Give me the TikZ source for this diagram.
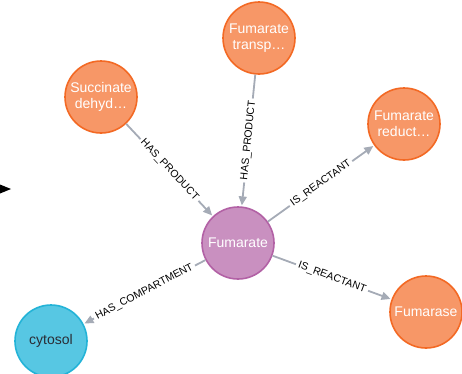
\documentclass[tikz,border=0pt]{standalone}
\usepackage{fontspec}
\setmainfont{Liberation Sans}
\usepackage{xcolor}
\usetikzlibrary{arrows.meta}

\definecolor{orangefill}{HTML}{F79767}
\definecolor{orangeline}{HTML}{F36924}
\definecolor{purplefill}{HTML}{C990C0}
\definecolor{purpleline}{HTML}{B261A5}
\definecolor{cyanfill}{HTML}{57C7E3}
\definecolor{cyanline}{HTML}{23B3D7}
\definecolor{edgegray}{HTML}{A5ABB6}
\definecolor{darktext}{HTML}{2A2C34}

\begin{document}
\begin{tikzpicture}[
  x=1pt, y=-1pt,
  ent/.style={circle, line width=1.6pt, minimum size=72pt, inner sep=0pt,
              align=center, text=white, font=\fontsize{14}{16}\selectfont},
  enzyme/.style={ent, fill=orangefill, draw=orangeline},
  metab/.style={ent, fill=purplefill, draw=purpleline},
  comp/.style={ent, fill=cyanfill, draw=cyanline, text=darktext},
  arr/.style={-{Triangle[length=9pt,width=8pt]}, edgegray, line width=1.8pt,
              shorten >=1pt},
  lbl/.style={font=\fontsize{10.5}{12}\selectfont, text=black, sloped,
              fill=white, inner sep=2.5pt, pos=0.5}
]
\useasboundingbox (0,0) rectangle (462,373);

\node[enzyme] (sdh)  at (101,97)  {Succinate\\dehyd\ldots};
\node[enzyme] (ftr)  at (259,38)  {Fumarate\\transp\ldots};
\node[enzyme] (frd)  at (404,124) {Fumarate\\reduct\ldots};
\node[enzyme] (fum)  at (426,312) {Fumarase};
\node[metab]  (fa)   at (238,243) {Fumarate};
\node[comp]   (cyto) at (51,341)  {cytosol};

\draw[arr] (sdh) -- (fa)   node[lbl]{HAS\_PRODUCT};
\draw[arr] (ftr) -- (fa)   node[lbl]{HAS\_PRODUCT};
\draw[arr] (fa)  -- (frd)  node[lbl]{IS\_REACTANT};
\draw[arr] (fa)  -- (fum)  node[lbl]{IS\_REACTANT};
\draw[arr] (fa)  -- (cyto) node[lbl]{HAS\_COMPARTMENT};

% stray arrow tip at the left edge
\fill[black] (0,184.5) -- (11,189) -- (0,193.5) -- cycle;
\end{tikzpicture}
\end{document}
